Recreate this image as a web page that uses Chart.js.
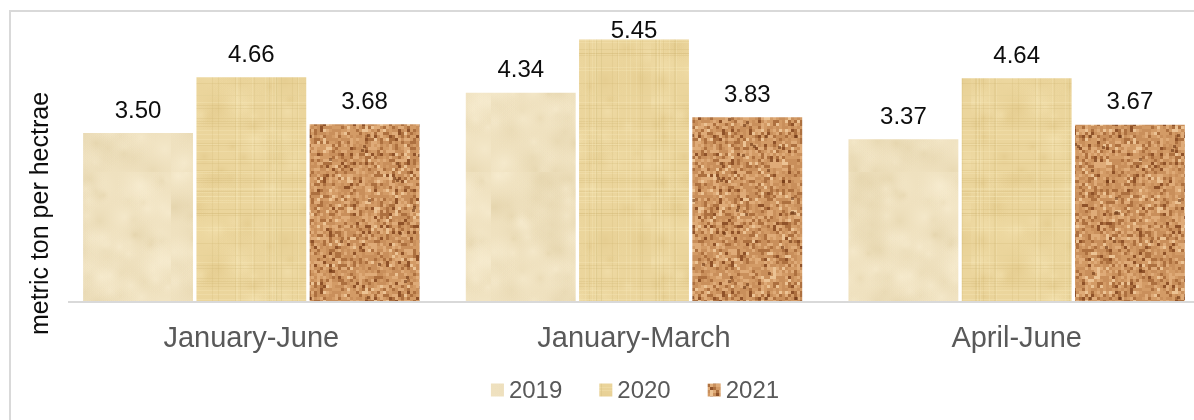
<!DOCTYPE html>
<html>
<head>
<meta charset="utf-8">
<script src="https://cdn.jsdelivr.net/npm/chart.js@4"></script>
<style>
  html, body { margin: 0; padding: 0; background: #fff; overflow: hidden; width: 1194px; height: 420px; }
  #frame { position: absolute; left: 9px; top: 10px; border-left: 2px solid #d9d9d9; border-top: 2px solid #d9d9d9; width: 1200px; height: 420px; }
  canvas { display: block; }
</style>
</head>
<body>
<div id="frame"><canvas id="c" width="1200" height="408"></canvas></div>
<script>
const categories = ['January-June', 'January-March', 'April-June'];
const seriesLabels = ['2019', '2020', '2021'];
const values2019 = [3.50, 4.34, 3.37];
const values2020 = [4.66, 5.45, 4.64];
const values2021 = [3.68, 3.83, 3.67];

const FONT = "'Liberation Sans', Arial, sans-serif";

// deterministic texture generator (styling only)
function lcg(seed) { let s = seed >>> 0; return () => { s = (s * 1664525 + 1013904223) >>> 0; return s / 4294967296; }; }

function parchment() {
  const c = document.createElement('canvas'); c.width = 160; c.height = 160;
  const g = c.getContext('2d'); const r = lcg(11);
  g.fillStyle = '#efe1bf'; g.fillRect(0, 0, 160, 160);
  for (let i = 0; i < 140; i++) {
    const x = r() * 160, y = r() * 160, rad = 6 + r() * 22;
    const light = r() > 0.5;
    const grad = g.createRadialGradient(x, y, 0, x, y, rad);
    grad.addColorStop(0, light ? 'rgba(250,240,214,0.45)' : 'rgba(222,204,160,0.35)');
    grad.addColorStop(1, 'rgba(239,225,191,0)');
    g.fillStyle = grad; g.beginPath(); g.arc(x, y, rad, 0, Math.PI * 2); g.fill();
  }
  return g.createPattern(c, 'repeat');
}
function papyrus() {
  const c = document.createElement('canvas'); c.width = 160; c.height = 160;
  const g = c.getContext('2d'); const r = lcg(23);
  g.fillStyle = '#ebd59c'; g.fillRect(0, 0, 160, 160);
  for (let i = 0; i < 60; i++) {
    const x = r() * 160, y = r() * 160, rad = 8 + r() * 24;
    const grad = g.createRadialGradient(x, y, 0, x, y, rad);
    grad.addColorStop(0, r() > 0.5 ? 'rgba(245,228,180,0.45)' : 'rgba(220,192,125,0.35)');
    grad.addColorStop(1, 'rgba(235,213,156,0)');
    g.fillStyle = grad; g.beginPath(); g.arc(x, y, rad, 0, Math.PI * 2); g.fill();
  }
  for (let i = 0; i < 40; i++) {
    g.fillStyle = r() > 0.5 ? 'rgba(205,178,110,0.22)' : 'rgba(248,234,190,0.3)';
    g.fillRect(0, Math.floor(r() * 160), 160, 1);
    g.fillStyle = r() > 0.5 ? 'rgba(205,178,110,0.2)' : 'rgba(248,234,190,0.25)';
    g.fillRect(Math.floor(r() * 160), 0, 1, 160);
  }
  return g.createPattern(c, 'repeat');
}
function cork() {
  const c = document.createElement('canvas'); c.width = 162; c.height = 162;
  const g = c.getContext('2d'); const r = lcg(57);
  g.fillStyle = '#c8915e'; g.fillRect(0, 0, 162, 162);
  for (let y = 0; y < 162; y += 3) {
    for (let x = 0; x < 162; x += 3) {
      const v = r();
      if (v < 0.16) g.fillStyle = '#ad703f';
      else if (v < 0.21) g.fillStyle = '#8f5229';
      else if (v < 0.40) g.fillStyle = '#dfab78';
      else if (v < 0.46) g.fillStyle = '#ecc394';
      else if (v < 0.75) g.fillStyle = '#c98f5b';
      else g.fillStyle = '#d39b66';
      g.fillRect(x, y, 3, 3);
    }
  }
  for (let i = 0; i < 35; i++) {
    g.fillStyle = 'rgba(110,55,20,0.6)';
    g.fillRect(Math.floor(r() * 162), Math.floor(r() * 162), 3, 3);
  }
  return g.createPattern(c, 'repeat');
}

const fills = [parchment(), papyrus(), cork()];
const seriesValues = [values2019, values2020, values2021];

const overlay = {
  id: 'overlay',
  beforeDatasetsDraw(chart) {
    const { ctx, chartArea } = chart;
    ctx.save();
    ctx.fillStyle = '#d9d9d9';
    ctx.fillRect(57, chartArea.bottom, chart.width - 57, 2);
    ctx.restore();
  },
  afterDraw(chart) {
    const { ctx, chartArea } = chart;
    ctx.save();
    // data labels
    ctx.font = '24px ' + FONT;
    ctx.fillStyle = '#0d0d0d';
    ctx.textAlign = 'center';
    ctx.textBaseline = 'alphabetic';
    chart.data.datasets.forEach((ds, di) => {
      chart.getDatasetMeta(di).data.forEach((el, i) => {
        const y = Math.max(el.y - 15.5, chartArea.top + 25.3);
        ctx.fillText(ds.data[i].toFixed(2), el.x, y);
      });
    });
    // y axis title
    ctx.save();
    ctx.translate(36.8, 201.5);
    ctx.rotate(-Math.PI / 2);
    ctx.font = '25px ' + FONT;
    ctx.fillStyle = '#0d0d0d';
    ctx.textAlign = 'center';
    ctx.textBaseline = 'alphabetic';
    ctx.fillText('metric ton per hectrae', 0, 0);
    ctx.restore();
    // legend
    ctx.font = '24px ' + FONT;
    const box = 13, gap = 5, itemGap = 37;
    const widths = chart.data.datasets.map(ds => box + gap + ctx.measureText(ds.label).width);
    const total = widths.reduce((a, b) => a + b, 0) + itemGap * (widths.length - 1);
    let x = 624 - total / 2;
    const cy = 378;
    chart.data.datasets.forEach((ds, di) => {
      ctx.fillStyle = ds.backgroundColor;
      ctx.fillRect(x, cy - 6.5, box, box);
      ctx.fillStyle = '#595959';
      ctx.textAlign = 'left';
      ctx.textBaseline = 'middle';
      ctx.fillText(ds.label, x + box + gap, cy + 1);
      x += widths[di] + itemGap;
    });
    ctx.restore();
  }
};

new Chart(document.getElementById('c'), {
  type: 'bar',
  data: {
    labels: categories,
    datasets: seriesLabels.map((lab, i) => ({
      label: lab,
      data: seriesValues[i],
      backgroundColor: fills[i],
      borderWidth: 0,
      categoryPercentage: 0.888,
      barPercentage: 0.97
    }))
  },
  options: {
    responsive: false,
    animation: false,
    devicePixelRatio: 1,
    layout: { padding: { left: 49, right: 3, top: 1, bottom: 0 } },
    plugins: { legend: { display: false }, tooltip: { enabled: false } },
    scales: {
      x: {
        grid: { display: false },
        border: { display: false },
        ticks: { color: '#595959', font: { family: FONT, size: 29 }, padding: 13 },
        afterFit(scale) { scale.height = 119; }
      },
      y: {
        display: false,
        min: 0,
        max: 6
      }
    }
  },
  plugins: [overlay]
});
</script>
</body>
</html>
